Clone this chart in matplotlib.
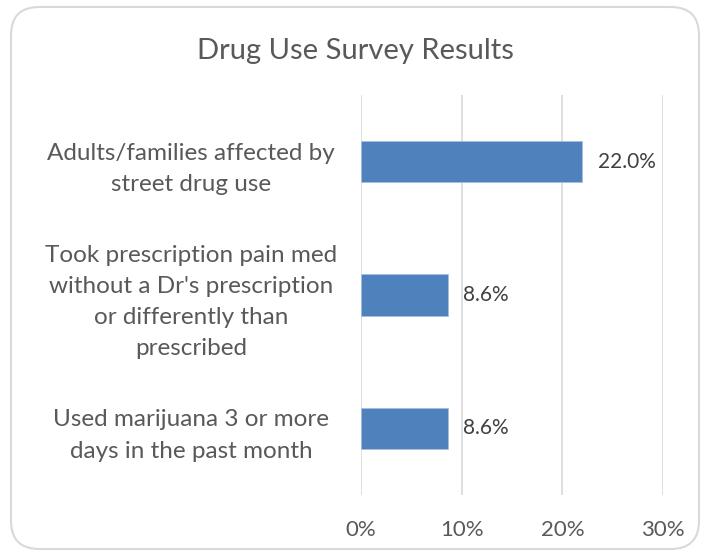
import matplotlib
matplotlib.use("Agg")
import matplotlib.pyplot as plt
from matplotlib.patches import FancyBboxPatch

categories = ["Adults/families affected by\nstreet drug use",
              "Took prescription pain med\nwithout a Dr's prescription\nor differently than\nprescribed",
              "Used marijuana 3 or more\ndays in the past month"]
values = [22.0, 8.6, 8.6]
xticks = [0, 10, 20, 30]
xtick_labels = ["0%", "10%", "20%", "30%"]
title = "Drug Use Survey Results"

plt.rcParams['font.family'] = ['Lato', 'DejaVu Sans']
W, H = 707, 556
fig = plt.figure(figsize=(W/100, H/100), dpi=100)

# rounded border
border = FancyBboxPatch((11/W, 7/H), (699-11)/W, (549-7)/H,
                        boxstyle="round,pad=0,rounding_size=0.04",
                        transform=fig.transFigure, facecolor="white",
                        edgecolor="#D9D9D9", linewidth=1.5, mutation_aspect=W/H,
                        zorder=-5)
fig.patches.append(border)

left, right = 361/W, 663/W
top, bottom = 1 - 95/H, 1 - 495/H
ax = fig.add_axes([left, bottom, right-left, top-bottom])
ax.set_facecolor("none")

pos = list(range(len(categories)))
ax.barh(pos, values, height=0.31, color="#4F81BD", edgecolor="#A7BFDE", linewidth=0.6, zorder=3)
for p, v in zip(pos, values):
    ax.text(v + 1.5, p, f"{v:.1f}%", va="center", ha="left", fontsize=15,
            color="#404040")

ax.set_xlim(0, 30)
ax.set_ylim(len(categories) - 0.5, -0.5)
ax.set_xticks(xticks)
ax.set_xticklabels(xtick_labels, fontsize=16, color="#595959")
ax.set_yticks(pos)
ax.set_yticklabels(categories, fontsize=17.5, color="#595959", ha="center",
                   linespacing=1.6)
ax.tick_params(axis="y", length=0, pad=122.4)
ax.tick_params(axis="x", length=0, pad=18)
ax.grid(axis="x", color="#D9D9D9", linewidth=1.2, zorder=0)
for s in ax.spines.values():
    s.set_visible(False)

fig.text((197+513)/2/W, 1 - 51/H, title, ha="center", va="center", fontsize=21,
         color="#595959")

fig.savefig("out.png", dpi=100)
